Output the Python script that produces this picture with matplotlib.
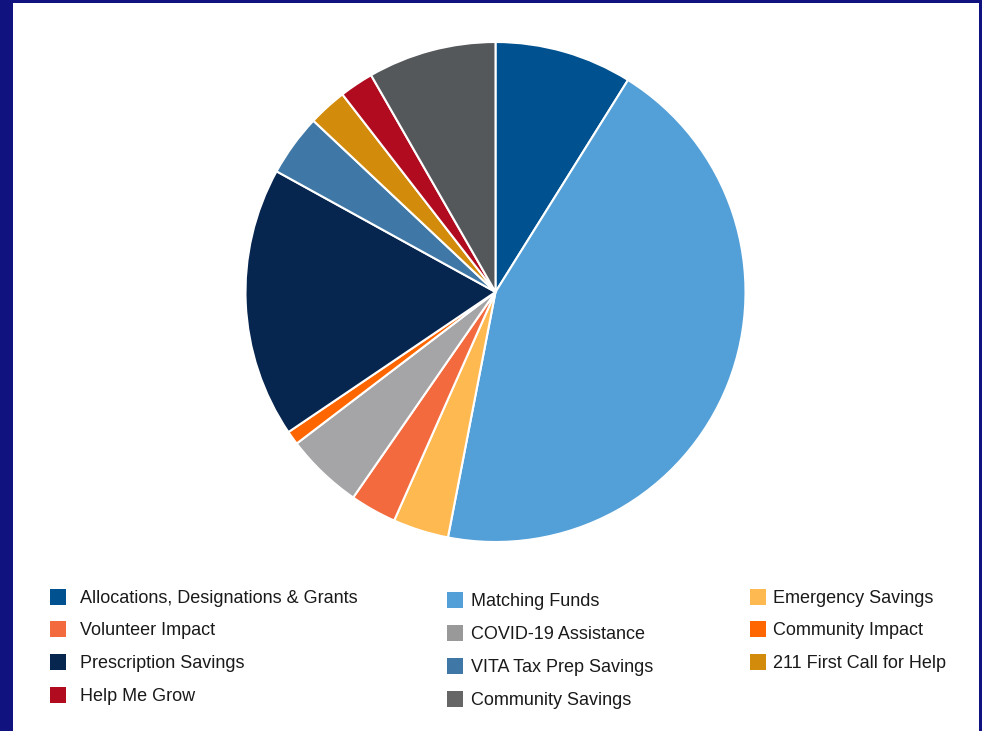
import matplotlib.pyplot as plt
from matplotlib.patches import Rectangle

plt.rcParams['font.family'] = ['Liberation Sans', 'DejaVu Sans']

labels = ["Allocations, Designations & Grants", "Matching Funds", "Emergency Savings",
          "Volunteer Impact", "COVID-19 Assistance", "Community Impact",
          "Prescription Savings", "VITA Tax Prep Savings", "211 First Call for Help",
          "Help Me Grow", "Community Savings"]
values = [8.9, 44.2, 3.6, 3.0, 5.0, 0.9, 17.5, 4.0, 2.5, 2.2, 8.3]
colors = ["#00518f", "#539fd7", "#ffb951", "#f26a3d", "#a5a5a8", "#ff6600",
          "#06254f", "#3f78a6", "#d38b0c", "#b00b1f", "#55585a"]
legend_colors = ["#00518f", "#539fd7", "#ffb951", "#f26a3d", "#999999", "#ff6600",
                 "#06254f", "#3f78a6", "#d38b0c", "#b00b1f", "#666666"]

W, H = 982, 731
fig = plt.figure(figsize=(W / 100, H / 100), dpi=100)
fig.patch.set_facecolor("#10127f")
# white panel
fig.add_artist(Rectangle((13 / W, 0), (W - 16) / W, (H - 3) / H, transform=fig.transFigure,
                         facecolor="white", edgecolor="none", zorder=0))

cx, cy, r = 495.5, 292, 250
ax = fig.add_axes([(cx - r) / W, (H - cy - r) / H, 2 * r / W, 2 * r / H])
ax.pie(values, colors=colors, startangle=90, counterclock=False,
       wedgeprops=dict(edgecolor="white", linewidth=1.5))
ax.set_xlim(-1, 1)
ax.set_ylim(-1, 1)
ax.axis("off")

# legend laid out row by row in three columns
col_sq = [50, 447, 750]
col_tx = [80, 471, 773]
col_y = [[597, 629, 662, 695], [600, 633, 666, 699], [597, 629, 662]]
for i, (lab, c) in enumerate(zip(labels, legend_colors)):
    row, col = divmod(i, 3)
    y = col_y[col][row]
    fig.add_artist(Rectangle((col_sq[col] / W, (H - y - 8) / H), 16 / W, 16 / H,
                             transform=fig.transFigure, facecolor=c, edgecolor="none"))
    fig.text(col_tx[col] / W, (H - y - 1.5) / H, lab, fontsize=13, color="#1a1a1a",
             ha="left", va="center")

fig.savefig("out.png", dpi=100, facecolor=fig.get_facecolor())
